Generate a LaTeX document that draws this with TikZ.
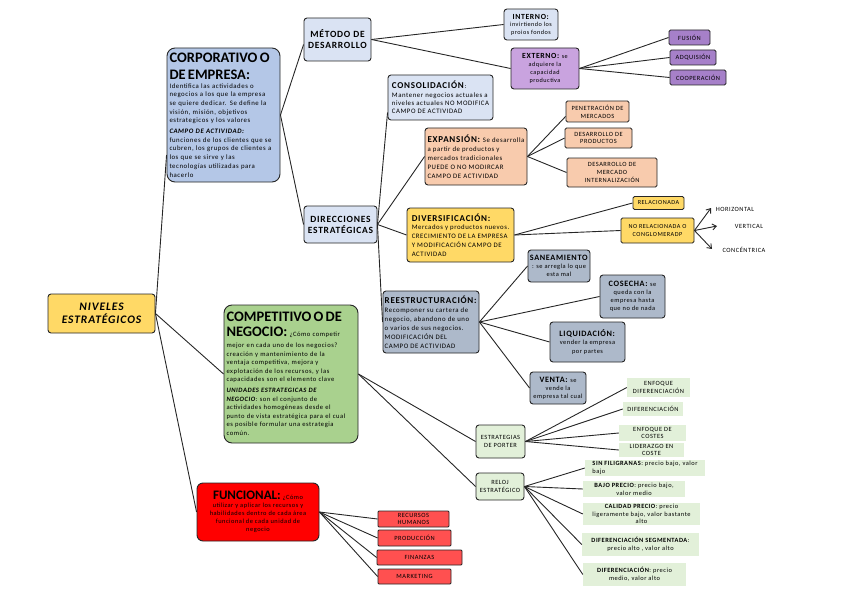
\documentclass[tikz,border=0pt]{standalone}
\usepackage{fontspec}
\setmainfont{Carlito}[LetterSpace=8]
\newfontfamily\plainf{Carlito}
\usetikzlibrary{arrows.meta}
\definecolor{cyel}{HTML}{FFD966}
\definecolor{ccorp}{HTML}{B4C7E7}
\definecolor{clb}{HTML}{DAE3F3}
\definecolor{cpur}{HTML}{C9A3DF}
\definecolor{cdpur}{HTML}{A680C9}
\definecolor{cpeach}{HTML}{F8CBAD}
\definecolor{cgb}{HTML}{ADB9CA}
\definecolor{cgreen}{HTML}{A9D18E}
\definecolor{clg}{HTML}{E2F0D9}
\definecolor{cred}{HTML}{FF0000}
\definecolor{clred}{HTML}{FF5050}
\definecolor{linec}{HTML}{262626}
\newcommand\fs[2]{\fontsize{#1}{#2}\selectfont}
\tikzset{
  bx/.style={draw=linec, line width=0.9pt, rounded corners=3pt, inner sep=1.5pt, align=center, font=\fs{6.8}{8}},
  gbx/.style={fill=clg, inner sep=1pt, align=center, font=\fs{6.4}{7.6}},
  rbx/.style={draw=linec, line width=0.8pt, rounded corners=1pt, fill=clred, inner sep=1pt, align=center, font=\fs{6.4}{7}},
  pbx/.style={bx, fill=cdpur, rounded corners=1.5pt, font=\fs{6.4}{7}},
  conn/.style={draw=linec, line width=0.9pt},
  arr/.style={conn, -{Straight Barb[length=4pt,width=6pt]}},
  lab/.style={inner sep=0pt, font=\fs{6.4}{7}}
}
\begin{document}
\begin{tikzpicture}[x=1pt,y=-1pt]
\useasboundingbox (0,0) rectangle (848,599);
% level 0
\node[bx, fill=cyel, minimum width=107pt, minimum height=39pt, font=\fs{11.5}{12.5}\bfseries\itshape] (niveles) at (101.5,313.5) {NIVELES\\ESTRATÉGICOS};
% corporativo
\node[bx, fill=ccorp, rounded corners=8pt, minimum width=113pt, minimum height=134pt, text width=108pt, align=left, font=\fs{6.8}{8.7}] (corp) at (223.5,115) {{\plainf\fs{14.5}{17}\bfseries CORPORATIVO O\\DE EMPRESA:\par}
Identifica las actividades o\\negocios a los que la empresa\\se quiere dedicar. Se define la\\visión, misión, objetivos\\estrategicos y los valores\par\vspace{2pt}
\textbf{\textit{CAMPO DE ACTIVIDAD:}}\\funciones de los clientes que se\\cubren, los grupos de clientes a\\los que se sirve y las\\tecnologías utilizadas para\\hacerlo};
\node[bx, fill=clb, minimum width=67pt, minimum height=43pt, font=\fs{9.5}{11}\bfseries] (metodo) at (337.5,39.5) {MÉTODO DE\\DESARROLLO};
\node[bx, fill=clb, minimum width=54pt, minimum height=31pt, font=\fs{6.2}{7.5}] (interno) at (531,24.5) {\textbf{\fs{7.8}{8}INTERNO:}\\invirtiendo los\\proios fondos};
\node[bx, fill=cpur, minimum width=68pt, minimum height=41pt, font=\fs{6.2}{7.8}] (externo) at (545,68.5) {\textbf{\fs{7.8}{8}EXTERNO:} se\\adquiere la\\capacidad\\productiva};
\node[pbx, minimum width=41pt, minimum height=15pt] (fusion) at (689.5,37.5) {FUSIÓN};
\node[pbx, minimum width=46pt, minimum height=15pt] (adq) at (693,57.5) {ADQUISIÓN};
\node[pbx, minimum width=56pt, minimum height=15pt] (coop) at (698,77.5) {COOPERACIÓN};
\node[bx, fill=clb, minimum width=73pt, minimum height=37pt, font=\fs{9.5}{11}\bfseries] (direc) at (340.5,224.5) {DIRECCIONES\\ESTRATÉGICAS};
\node[bx, fill=clb, minimum width=105pt, minimum height=45pt, align=left, font=\fs{6.8}{8.2}] (consol) at (440.5,97.5) {\textbf{\fs{9}{10}CONSOLIDACIÓN}:\\Mantener negocios actuales a\\niveles actuales NO MODIFICA\\CAMPO DE ACTIVIDAD};
\node[bx, fill=cpeach, minimum width=102pt, minimum height=57pt, align=left, font=\fs{6.8}{9}] (expan) at (476,156.5) {\textbf{\fs{9}{10}EXPANSIÓN:} Se desarrolla\\a partir de productos y\\mercados tradicionales\\PUEDE O NO MODIRCAR\\CAMPO DE ACTIVIDAD};
\node[bx, fill=cpeach, rounded corners=1.5pt, minimum width=63pt, minimum height=21pt, font=\fs{6.4}{7.8}] (penet) at (597.5,111.5) {PENETRACIÓN DE\\MERCADOS};
\node[bx, fill=cpeach, rounded corners=1.5pt, minimum width=67pt, minimum height=20pt, font=\fs{6.4}{7.8}] (desprod) at (598.5,138) {DESARROLLO DE\\PRODUCTOS};
\node[bx, fill=cpeach, rounded corners=1.5pt, minimum width=90pt, minimum height=29pt, font=\fs{6.4}{8.4}] (desmerc) at (612,172.5) {DESARROLLO DE\\MERCADO\\INTERNALIZACIÓN};
\node[bx, fill=cyel, minimum width=107pt, minimum height=54pt, align=left, font=\fs{6.8}{8.8}] (divers) at (460.5,235) {\textbf{\fs{9}{10}DIVERSIFICACIÓN:}\\Mercados y productos nuevos.\\CRECIMIENTO DE LA EMPRESA\\Y MODIFICACIÓN CAMPO DE\\ACTIVIDAD};
\node[bx, fill=cyel, rounded corners=1.5pt, minimum width=51pt, minimum height=13pt, font=\fs{6.2}{7}] (relac) at (658.5,203) {RELACIONADA};
\node[bx, fill=cyel, rounded corners=1.5pt, minimum width=73pt, minimum height=25pt, font=\fs{6.2}{7.6}] (norelac) at (657.5,230.5) {NO RELACIONADA O\\CONGLOMERADP};
\coordinate (ah) at (711,208);
\coordinate (av) at (717,226);
\coordinate (ac) at (712,249);
\node[lab] (horiz) at (735,209) {HORIZONTAL};
\node[lab] (vert) at (749,226) {VERTICAL};
\node[lab] (conc) at (744,250) {CONCÉNTRICA};
\node[bx, fill=cgb, minimum width=96pt, minimum height=62pt, align=left, font=\fs{6.8}{9}] (reest) at (431,322) {\textbf{\fs{9}{10}REESTRUCTURACIÓN:}\\Recomponer su cartera de\\negocio, abandono de uno\\o varios de sus negocios.\\MODIFICACIÓN DEL\\CAMPO DE ACTIVIDAD};
\node[bx, fill=cgb, minimum width=62pt, minimum height=32pt, font=\fs{6.4}{7.8}] (sanea) at (559,266) {\textbf{\fs{8.2}{9}SANEAMIENTO}\\: se arregla lo que\\esta mal};
\node[bx, fill=cgb, minimum width=65pt, minimum height=43pt, font=\fs{6.4}{8.2}] (cosecha) at (632.5,296.5) {\textbf{\fs{8.2}{9}COSECHA:} se\\queda con la\\empresa hasta\\que no de nada};
\node[bx, fill=cgb, minimum width=75pt, minimum height=40pt, font=\fs{6.4}{8.5}] (liquid) at (587.5,342) {\textbf{\fs{8.2}{9}LIQUIDACIÓN:}\\vender la empresa\\por partes};
\node[bx, fill=cgb, minimum width=56pt, minimum height=32pt, font=\fs{6.4}{8}] (venta) at (558,388) {\textbf{\fs{8.2}{9}VENTA:} se\\vende la\\empresa tal cual};
% competitivo
\node[bx, fill=cgreen, rounded corners=8pt, minimum width=134pt, minimum height=138pt, text width=129pt, align=left, font=\fs{6.6}{8.6}] (compet) at (291,374) {{\plainf\fs{14.5}{17}\bfseries COMPETITIVO O DE\par}
{\plainf\fs{14.5}{19}\bfseries\strut NEGOCIO:} ¿Cómo competir\\mejor en cada uno de los negocios?\\creación y mantenimiento de la\\ventaja competitiva, mejora y\\explotación de los recursos, y las\\capacidades son el elemento clave\par\vspace{2pt}
\textbf{\textit{UNIDADES ESTRATEGICAS DE}}\\\textbf{\textit{NEGOCIO}}: son el conjunto de\\actividades homogéneas desde el\\punto de vista estratégica para el cual\\es posible formular una estrategia\\común.};
\node[bx, fill=clg, minimum width=49pt, minimum height=33pt, font=\fs{6.4}{8}] (porter) at (500.5,441.5) {ESTRATEGIAS\\DE PORTER};
\node[gbx, minimum width=63pt, minimum height=19pt] (enfdif) at (658.5,387.5) {ENFOQUE\\DIFERENCIACIÓN};
\node[gbx, minimum width=60pt, minimum height=14pt] (dif) at (653,409) {DIFERENCIACIÓN};
\node[gbx, minimum width=67pt, minimum height=16pt] (enfcos) at (652.5,433) {ENFOQUE DE\\COSTES};
\node[gbx, minimum width=65pt, minimum height=14pt] (lider) at (651.5,450) {LIDERAZGO EN\\COSTE};
\node[bx, fill=clg, minimum width=48pt, minimum height=27pt, font=\fs{6.4}{8}] (reloj) at (500,486.5) {RELOJ\\ESTRATÉGICO};
\node[gbx, minimum width=120pt, minimum height=16pt, align=left] (sinfil) at (645,468) {\textbf{SIN FILIGRANAS}: precio bajo, valor\\bajo};
\node[gbx, minimum width=102pt, minimum height=16pt] (bajo) at (634,489) {\textbf{BAJO PRECIO}: precio bajo,\\valor medio};
\node[gbx, minimum width=117pt, minimum height=22pt] (calidad) at (641.5,514) {\textbf{CALIDAD PRECIO}:  precio\\ligeramente bajo, valor bastante\\alto};
\node[gbx, minimum width=117pt, minimum height=23pt] (difseg) at (640.5,544.5) {\textbf{DIFERENCIACIÓN SEGMENTADA}:\\precio alto , valor alto};
\node[gbx, minimum width=103pt, minimum height=23pt] (difer) at (634.5,574.5) {\textbf{DIFERENCIACIÓN}: precio\\medio, valor alto};
% funcional
\node[bx, fill=cred, rounded corners=6pt, minimum width=122pt, minimum height=58pt, font=\fs{6.4}{8}] (funcional) at (258,512) {{\plainf\fs{13}{14}\bfseries FUNCIONAL:} ¿Cómo\\utilizar y aplicar los recursos y\\habilidades dentro de cada área\\funcional de cada unidad de\\negocio};
\node[rbx, minimum width=71pt, minimum height=16pt] (rrhh) at (413.5,519) {RECURSOS\\HUMANOS};
\node[rbx, minimum width=73pt, minimum height=16pt] (prod) at (414.5,538) {PRODUCCIÓN};
\node[rbx, minimum width=85pt, minimum height=15pt] (fin) at (419.5,557.5) {FINANZAS};
\node[rbx, minimum width=73pt, minimum height=15pt] (mkt) at (414.5,576.5) {MARKETING};
% connectors
\draw[conn] (niveles.east) -- ([yshift=-40pt]corp.west);
\draw[conn] (niveles.east) -- (compet.west);
\draw[conn] (niveles.east) -- (funcional.west);
\draw[conn] (corp.east) -- ([yshift=-5pt]metodo.west);
\draw[conn] (corp.east) -- (direc.west);
\draw[conn] (metodo.east) -- (interno.west);
\draw[conn] (metodo.east) -- (externo.west);
\draw[conn] (externo.east) -- (fusion.west);
\draw[conn] (externo.east) -- (adq.west);
\draw[conn] (externo.east) -- (coop.west);
\draw[conn] (direc.east) -- ([yshift=-15pt]consol.west);
\draw[conn] (direc.east) -- (expan.west);
\draw[conn] (direc.east) -- (divers.west);
\draw[conn] (direc.east) -- (reest.west);
\draw[conn] (expan.east) -- ([yshift=-5pt]penet.west);
\draw[conn] (expan.east) -- (desprod.west);
\draw[conn] (expan.east) -- (desmerc.west);
\draw[conn] (divers.east) -- (relac.west);
\draw[conn] (divers.east) -- (norelac.west);
\draw[arr] (norelac.east) -- (ah);
\draw[arr] (norelac.east) -- (av);
\draw[arr] (norelac.east) -- (ac);
\draw[conn] (reest.east) -- (sanea.west);
\draw[conn] (reest.east) -- (cosecha.west);
\draw[conn] (reest.east) -- (liquid.west);
\draw[conn] (reest.east) -- (venta.west);
\draw[conn] (compet.east) -- (porter.west);
\draw[conn] (compet.east) -- (reloj.west);
\draw[conn] (porter.east) -- (enfdif.west);
\draw[conn] (porter.east) -- (dif.west);
\draw[conn] (porter.east) -- (enfcos.west);
\draw[conn] (porter.east) -- (lider.west);
\draw[conn] (reloj.east) -- (sinfil.west);
\draw[conn] (reloj.east) -- (bajo.west);
\draw[conn] (reloj.east) -- (calidad.west);
\draw[conn] (reloj.east) -- (difseg.west);
\draw[conn] (reloj.east) -- (difer.west);
\draw[conn] (funcional.east) -- (rrhh.west);
\draw[conn] (funcional.east) -- (prod.west);
\draw[conn] (funcional.east) -- (fin.west);
\draw[conn] (funcional.east) -- (mkt.west);
\end{tikzpicture}
\end{document}
